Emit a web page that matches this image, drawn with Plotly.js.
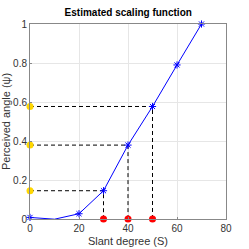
<!DOCTYPE html>
<html><head><meta charset="utf-8">
<script src="https://cdn.plot.ly/plotly-3.0.1.min.js"></script>
<style>body{margin:0;padding:0;background:#fff}#c{width:249px;height:249px}</style>
</head><body><div id="c"></div>
<script>
const slant = [0, 10, 20, 30, 40, 50, 60, 70];
const perceived = [0.008, -0.001, 0.027, 0.145, 0.379, 0.577, 0.79, 1.0];
const markedSlant = [30, 40, 50];
const markedPerceived = [0.145, 0.379, 0.577];
const xTicks = [0, 20, 40, 60, 80];
const yTicks = [0, 0.2, 0.4, 0.6, 0.8, 1];

const traces = [];
markedSlant.forEach((s, i) => {
  traces.push({x: [0, s, s], y: [markedPerceived[i], markedPerceived[i], 0], mode: 'lines',
    line: {color: '#000', width: 1, dash: '4px,3px'}, hoverinfo: 'skip', cliponaxis: false});
});
traces.push({x: slant, y: perceived, mode: 'lines+markers',
  line: {color: '#0000ff', width: 1},
  marker: {symbol: 'asterisk-open', size: 6, color: '#0000ff', line: {color: '#0000ff', width: 1}},
  cliponaxis: false});
traces.push({x: markedSlant.map(() => 0), y: markedPerceived, mode: 'markers',
  marker: {symbol: 'circle', size: 7, color: '#ffd700'}, cliponaxis: false});
traces.push({x: markedSlant, y: markedSlant.map(() => 0), mode: 'markers',
  marker: {symbol: 'circle', size: 7, color: '#ff0000'}, cliponaxis: false});

const axisCommon = {showline: true, mirror: true, linecolor: '#888', linewidth: 1,
  gridcolor: '#e6e6e6', zeroline: false, ticks: 'inside', ticklen: 2, tickcolor: '#888',
  tickfont: {family: 'Liberation Sans, Arial', size: 10, color: '#333'}};

Plotly.newPlot('c', traces, {
  width: 249, height: 249,
  margin: {l: 30, r: 23, t: 24, b: 30},
  showlegend: false,
  paper_bgcolor: '#fff', plot_bgcolor: '#fff',
  title: {text: '<b>Estimated scaling function</b>', x: 0.515, xanchor: 'center', y: 0.948, yanchor: 'middle',
    font: {family: 'Liberation Sans, Arial', size: 10, color: '#000'}},
  xaxis: Object.assign({}, axisCommon, {range: [0, 80], tickvals: xTicks, ticktext: xTicks.map(String),
    title: {text: 'Slant degree (S)', standoff: 4, font: {family: 'Liberation Sans, Arial', size: 11, color: '#333'}}}),
  yaxis: Object.assign({}, axisCommon, {range: [0, 1], tickvals: yTicks, ticktext: yTicks.map(String),
    title: {text: 'Perceived angle (ψ)', standoff: 4, font: {family: 'Liberation Sans, Arial', size: 11, color: '#333'}}})
}, {displayModeBar: false, staticPlot: true});
</script></body></html>
